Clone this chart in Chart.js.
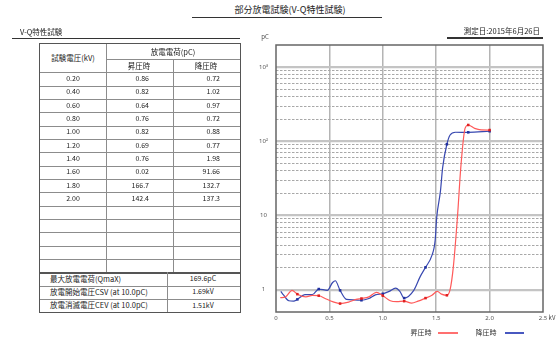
<!DOCTYPE html>
<html><head><meta charset="utf-8">
<script src="https://cdn.jsdelivr.net/npm/chart.js@4"></script>
<style>
body{margin:0;width:559px;height:338px;background:#fff;position:relative;overflow:hidden;font-family:"Noto Sans CJK JP","Noto Sans",sans-serif;color:#222}
.t{position:absolute;white-space:nowrap;line-height:1;z-index:5}
.ln{position:absolute;background:#333;z-index:5}
.h{position:absolute;height:1px;background:#8c8c8c}
.v{position:absolute;width:1px;background:#8c8c8c}
#c{position:absolute;left:250px;top:25px;z-index:1}
</style></head><body>
<script>
// ---- table data ----
const voltages = ["0.20","0.40","0.60","0.80","1.00","1.20","1.40","1.60","1.80","2.00"];
const upTable = ["0.86","0.82","0.64","0.76","0.82","0.69","0.76","0.02","166.7","142.4"];
const downTable = ["0.72","1.02","0.97","0.72","0.88","0.77","1.98","91.66","132.7","137.3"];
const summaryLabels = ["最大放電電荷(QmaX)","放電開始電圧CSV (at 10.0pC)","放電消滅電圧CEV (at 10.0pC)"];
const summaryValues = ["169.6pC","1.69kV","1.51kV"];
// ---- curve data ----
const upX = [0.04,0.09,0.15,0.20,0.28,0.34,0.40,0.47,0.53,0.60,0.68,0.75,0.80,0.87,0.94,1.00,1.07,1.13,1.20,1.27,1.33,1.40,1.46,1.51,1.55,1.60,1.63,1.66,1.70,1.73,1.77,1.80,1.86,1.92,2.00];
const upY = [0.78,0.80,0.98,0.87,0.80,0.84,0.83,0.75,0.69,0.65,0.68,0.74,0.76,0.80,0.92,0.83,0.71,0.69,0.70,0.66,0.70,0.77,0.84,0.95,0.87,0.84,1.0,2.0,10,44,150,166.7,150,143,142.4];
const downX = [0.045,0.07,0.12,0.165,0.20,0.27,0.34,0.40,0.48,0.53,0.555,0.60,0.66,0.73,0.80,0.87,0.93,1.00,1.06,1.12,1.16,1.20,1.29,1.35,1.40,1.46,1.49,1.505,1.54,1.56,1.60,1.63,1.68,1.80,2.00];
const downY = [0.95,0.85,0.71,0.70,0.74,0.86,0.86,1.02,0.98,1.25,1.32,0.98,0.74,0.73,0.72,0.76,0.85,0.88,0.95,1.05,0.95,0.77,0.98,1.5,2.0,2.9,4.6,9.5,21.5,44,91.66,122,133,132.7,137.3];
const markerX = [0.2,0.4,0.6,0.8,1.0,1.2,1.4,1.6,1.8,2.0];
const xTicks = [0,0.5,1.0,1.5,2.0,2.5];
const yMajor = [1,10,100,1000];
const yMajorLabels = ["1","10","10²","10³"];
const yMinor = [2,3,4,5,6,7,8,9,20,30,40,50,60,70,80,90,200,300,400,500,600,700,800,900];
const seriesNames = ["昇圧時","降圧時"];

function txt(s,x,y,opt){
  const d=document.createElement('div');d.className='t';d.textContent=s;
  d.style.fontSize=(opt.fs||7)+'px';
  if(opt.color)d.style.color=opt.color;
  const al=opt.al||'c';
  d.style.top=(y-(opt.fs||7)/2-0.5)+'px';
  if(al==='c'){d.style.left=x+'px';d.style.transform='translateX(-50%)';}
  else if(al==='l'){d.style.left=x+'px';}
  else {d.style.right=(559-x)+'px';}
  document.body.appendChild(d);
}
function box(cls,x,y,w,h,bg){const d=document.createElement('div');d.className=cls;d.style.left=x+'px';d.style.top=y+'px';if(w!=null)d.style.width=w+'px';if(h!=null)d.style.height=h+'px';if(bg)d.style.backgroundColor=bg;document.body.appendChild(d);}

// titles
txt("部分放電試験(V-Q特性試験)",290,10,{fs:9});
box('ln',192,17,190,1);
txt("V-Q特性試験",20,32,{fs:7.5,al:'l'});
box('ln',12,37.5,228,1.5);
txt("測定日:2015年6月26日",540,31,{fs:7.5,al:'r'});
box('ln',447,37,96,1.5);

// table geometry
const L=40,R=240,T=44,c1=106,c2=173,cs=167;
const rh=13.33,hdrB=72.3;
box('h',c1,59.3,R-c1,1);
for(let k=0;k<=18;k++){
  const y=hdrB+k*rh;
  box('h',L,y,R-L,(k===15)?1.5:1,(k===15)?'#555':null);
}
box('v',c1,T,null,hdrB+15*rh-T);
box('v',c2,59.3,null,hdrB+15*rh-59.3);
box('v',cs,hdrB+15*rh,null,3*rh);
const ob=document.createElement('div');ob.style.cssText=`position:absolute;left:${L-1}px;top:${T-1}px;width:${R-L}px;height:${hdrB+18*rh-T}px;border:1.5px solid #555;`;document.body.appendChild(ob);
txt("試験電圧(kV)",73,58.5,{fs:7.5});
txt("放電電荷(pC)",173,51.8,{fs:7.5});
txt(seriesNames[0],139,66,{fs:7.5});
txt(seriesNames[1],206,66,{fs:7.5});
for(let i=0;i<voltages.length;i++){
  const y=hdrB+i*rh+rh/2;
  txt(voltages[i],73,y,{fs:7});
  txt(upTable[i],149,y,{fs:7,al:'r'});
  txt(downTable[i],220,y,{fs:7,al:'r'});
}
for(let i=0;i<3;i++){
  const y=hdrB+(15+i)*rh+rh/2;
  txt(summaryLabels[i],50,y,{fs:7.5,al:'l'});
  txt(summaryValues[i],203,y,{fs:7});
}
txt("pC",265,37,{fs:6,color:'#444'});
txt("kV",552,318.5,{fs:6,color:'#444'});
txt(seriesNames[0],421,333,{fs:7,color:'#333'});
box('ln',438,332,20,2,'#ff7070');
txt(seriesNames[1],486,333,{fs:7,color:'#333'});
box('ln',505,332,19,2,'#4858c0');
</script>
<canvas id="c" width="309" height="313"></canvas>
<script>
const isMarker = v => markerX.some(m=>Math.abs(m-v)<1e-6);
const frame={id:'frame',afterDraw(ch){const a=ch.chartArea,g=ch.ctx;g.save();g.strokeStyle='#666';g.lineWidth=1.5;g.strokeRect(a.left,a.top,a.right-a.left,a.bottom-a.top);g.restore();}};
new Chart(document.getElementById('c'),{
  type:'line',
  data:{datasets:[
    {label:seriesNames[0],data:upX.map((x,i)=>({x,y:upY[i]})),borderColor:'#ff5a5a',borderWidth:1.2,cubicInterpolationMode:'monotone',
     pointStyle:'rect',pointRadius:c=>(c.raw&&isMarker(c.raw.x))?1.8:0,pointBackgroundColor:'#e02020',pointBorderWidth:0},
    {label:seriesNames[1],data:downX.map((x,i)=>({x,y:downY[i]})),borderColor:'#3848b0',borderWidth:1.2,cubicInterpolationMode:'monotone',
     pointStyle:'rect',pointRadius:c=>(c.raw&&isMarker(c.raw.x))?1.8:0,pointBackgroundColor:'#2030a0',pointBorderWidth:0}
  ]},
  options:{
    responsive:false,devicePixelRatio:1,animation:false,
    layout:{padding:{top:20,right:16,left:0,bottom:0}},
    plugins:{legend:{display:false},tooltip:{enabled:false}},
    scales:{
      x:{type:'linear',min:0,max:2.5,
        afterBuildTicks:s=>{s.ticks=xTicks.map(v=>({value:v}));},
        afterFit:s=>{s.height=26;},
        ticks:{callback:v=>v===0?'0':(v===2.5?'2.5':v.toFixed(1)),font:{size:6,family:'Noto Sans'},color:'#555',padding:3,maxRotation:0},
        grid:{color:c=>(c.tick&&(c.tick.value===0||c.tick.value===2.5))?'rgba(0,0,0,0)':'#b4b4b4',lineWidth:1.5,drawTicks:false},
        border:{display:false}},
      y:{type:'logarithmic',min:0.5,max:2000,position:'left',
        afterBuildTicks:s=>{s.ticks=yMajor.map(v=>({value:v}));},
        afterFit:s=>{s.width=26;},
        ticks:{callback:(v)=>{const i=yMajor.indexOf(v);return i>=0?yMajorLabels[i]:'';},font:{size:6,family:'Noto Sans'},color:'#555',padding:8,crossAlign:'center'},
        grid:{color:'#c4c4c4',lineWidth:2.2,drawTicks:false},
        border:{display:false}},
      y2:{type:'logarithmic',min:0.5,max:2000,position:'left',
        afterBuildTicks:s=>{s.ticks=yMinor.map(v=>({value:v}));},
        afterFit:s=>{s.width=0;},
        ticks:{display:false},
        grid:{color:'#a8a8a8',lineWidth:1,drawTicks:false},
        border:{display:false,dash:[2.5,1.5]}}
    }
  },
  plugins:[frame]
});
</script>
</body></html>
